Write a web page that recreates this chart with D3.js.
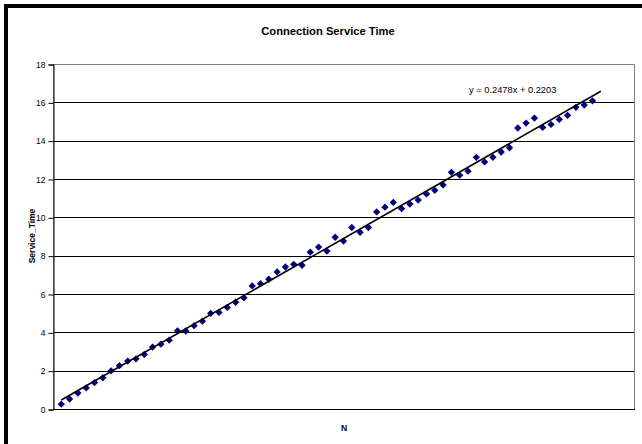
<!DOCTYPE html>
<html><head><meta charset="utf-8">
<script src="https://cdn.jsdelivr.net/npm/d3@7"></script>
<style>
html,body{margin:0;padding:0;background:#fff;}
svg{display:block;font-family:Arial,"Liberation Sans",sans-serif;}
</style></head>
<body><svg id="c" width="642" height="444"></svg>
<script>
const title = "Connection Service Time";
const xLabel = "N";
const yLabel = "Service_Time";
const yTicks = [0,2,4,6,8,10,12,14,16,18];
const nValues = d3.range(1, 66);
const serviceTime = [
 0.25,0.52,0.83,1.10,1.38,1.63,1.99,2.26,2.50,2.62,
 2.85,3.23,3.38,3.59,4.08,4.07,4.35,4.58,4.99,5.04,
 5.30,5.57,5.80,6.42,6.54,6.77,7.15,7.41,7.55,7.50,
 8.18,8.45,8.24,8.96,8.76,9.47,9.22,9.47,10.28,10.53,
 10.78,10.45,10.69,10.90,11.22,11.41,11.69,12.35,12.20,12.41,
 13.13,12.89,13.13,13.41,13.63,14.66,14.92,15.18,14.69,14.85,
 15.11,15.32,15.74,15.86,16.08];
const slope = 0.2478, intercept = 0.2203;
const trendRange = [1, 66];
const equation = "y = 0.2478x + 0.2203";

const svg = d3.select("#c");
const L = 53, R = 634, T = 64, B = 409;
const x = d3.scaleLinear().domain([0,70]).range([L,R]);
const y = d3.scaleLinear().domain([0,18]).range([B,T]);

// outer chart border (cropped on right/bottom)
svg.append("rect").attr("x",6).attr("y",6).attr("width",700).attr("height",500)
  .attr("fill","#fff").attr("stroke","#000").attr("stroke-width",4);

// gridlines
svg.append("g").selectAll("line").data(yTicks.filter(d=>d>0 && d<18)).join("line")
  .attr("x1",L).attr("x2",R).attr("y1",d=>Math.round(y(d))+0.5).attr("y2",d=>Math.round(y(d))+0.5)
  .attr("stroke","#000").attr("stroke-width",1);

// plot border
svg.append("rect").attr("x",L+0.5).attr("y",T+0.5).attr("width",R-L).attr("height",B-T)
  .attr("fill","none").attr("stroke","#808080").attr("stroke-width",1);

// y axis
const ya = svg.append("g").attr("transform",`translate(${L+0.5},0.5)`)
  .call(d3.axisLeft(y).tickValues(yTicks).tickSize(5).tickPadding(3).tickFormat(d3.format("d")));
ya.select(".domain").attr("stroke","#000");
ya.selectAll(".tick line").attr("stroke","#000");
ya.selectAll("text").attr("font-size",8.5).attr("fill","#000")
  .attr("font-family","Arial, 'Liberation Sans', sans-serif");

// x axis line
svg.append("line").attr("x1",L).attr("x2",R+1).attr("y1",B+0.5).attr("y2",B+0.5)
  .attr("stroke","#000").attr("stroke-width",1);

// points
const diamond = d3.symbol().type(d3.symbolDiamond2).size(34);
svg.append("g").selectAll("path").data(nValues.map((n,i)=>[n,serviceTime[i]])).join("path")
  .attr("d",diamond).attr("transform",d=>`translate(${x(d[0])},${y(d[1])})`)
  .attr("fill","#000080");

// trendline
svg.append("line")
  .attr("x1",x(trendRange[0])).attr("y1",y(slope*trendRange[0]+intercept))
  .attr("x2",x(trendRange[1])).attr("y2",y(slope*trendRange[1]+intercept))
  .attr("stroke","#000").attr("stroke-width",1.6);

// equation
svg.append("text").attr("x",469).attr("y",93).attr("font-size",9.3).text(equation);

// titles
svg.append("text").attr("x",328).attr("y",35).attr("text-anchor","middle")
  .attr("font-size",11.2).attr("font-weight","bold").text(title);
svg.append("text").attr("x",344).attr("y",431).attr("text-anchor","middle")
  .attr("font-size",8.5).attr("font-weight","bold").text(xLabel);
svg.append("text").attr("transform","translate(35,236) rotate(-90)").attr("text-anchor","middle")
  .attr("font-size",8.5).attr("font-weight","bold").text(yLabel);
</script></body></html>
